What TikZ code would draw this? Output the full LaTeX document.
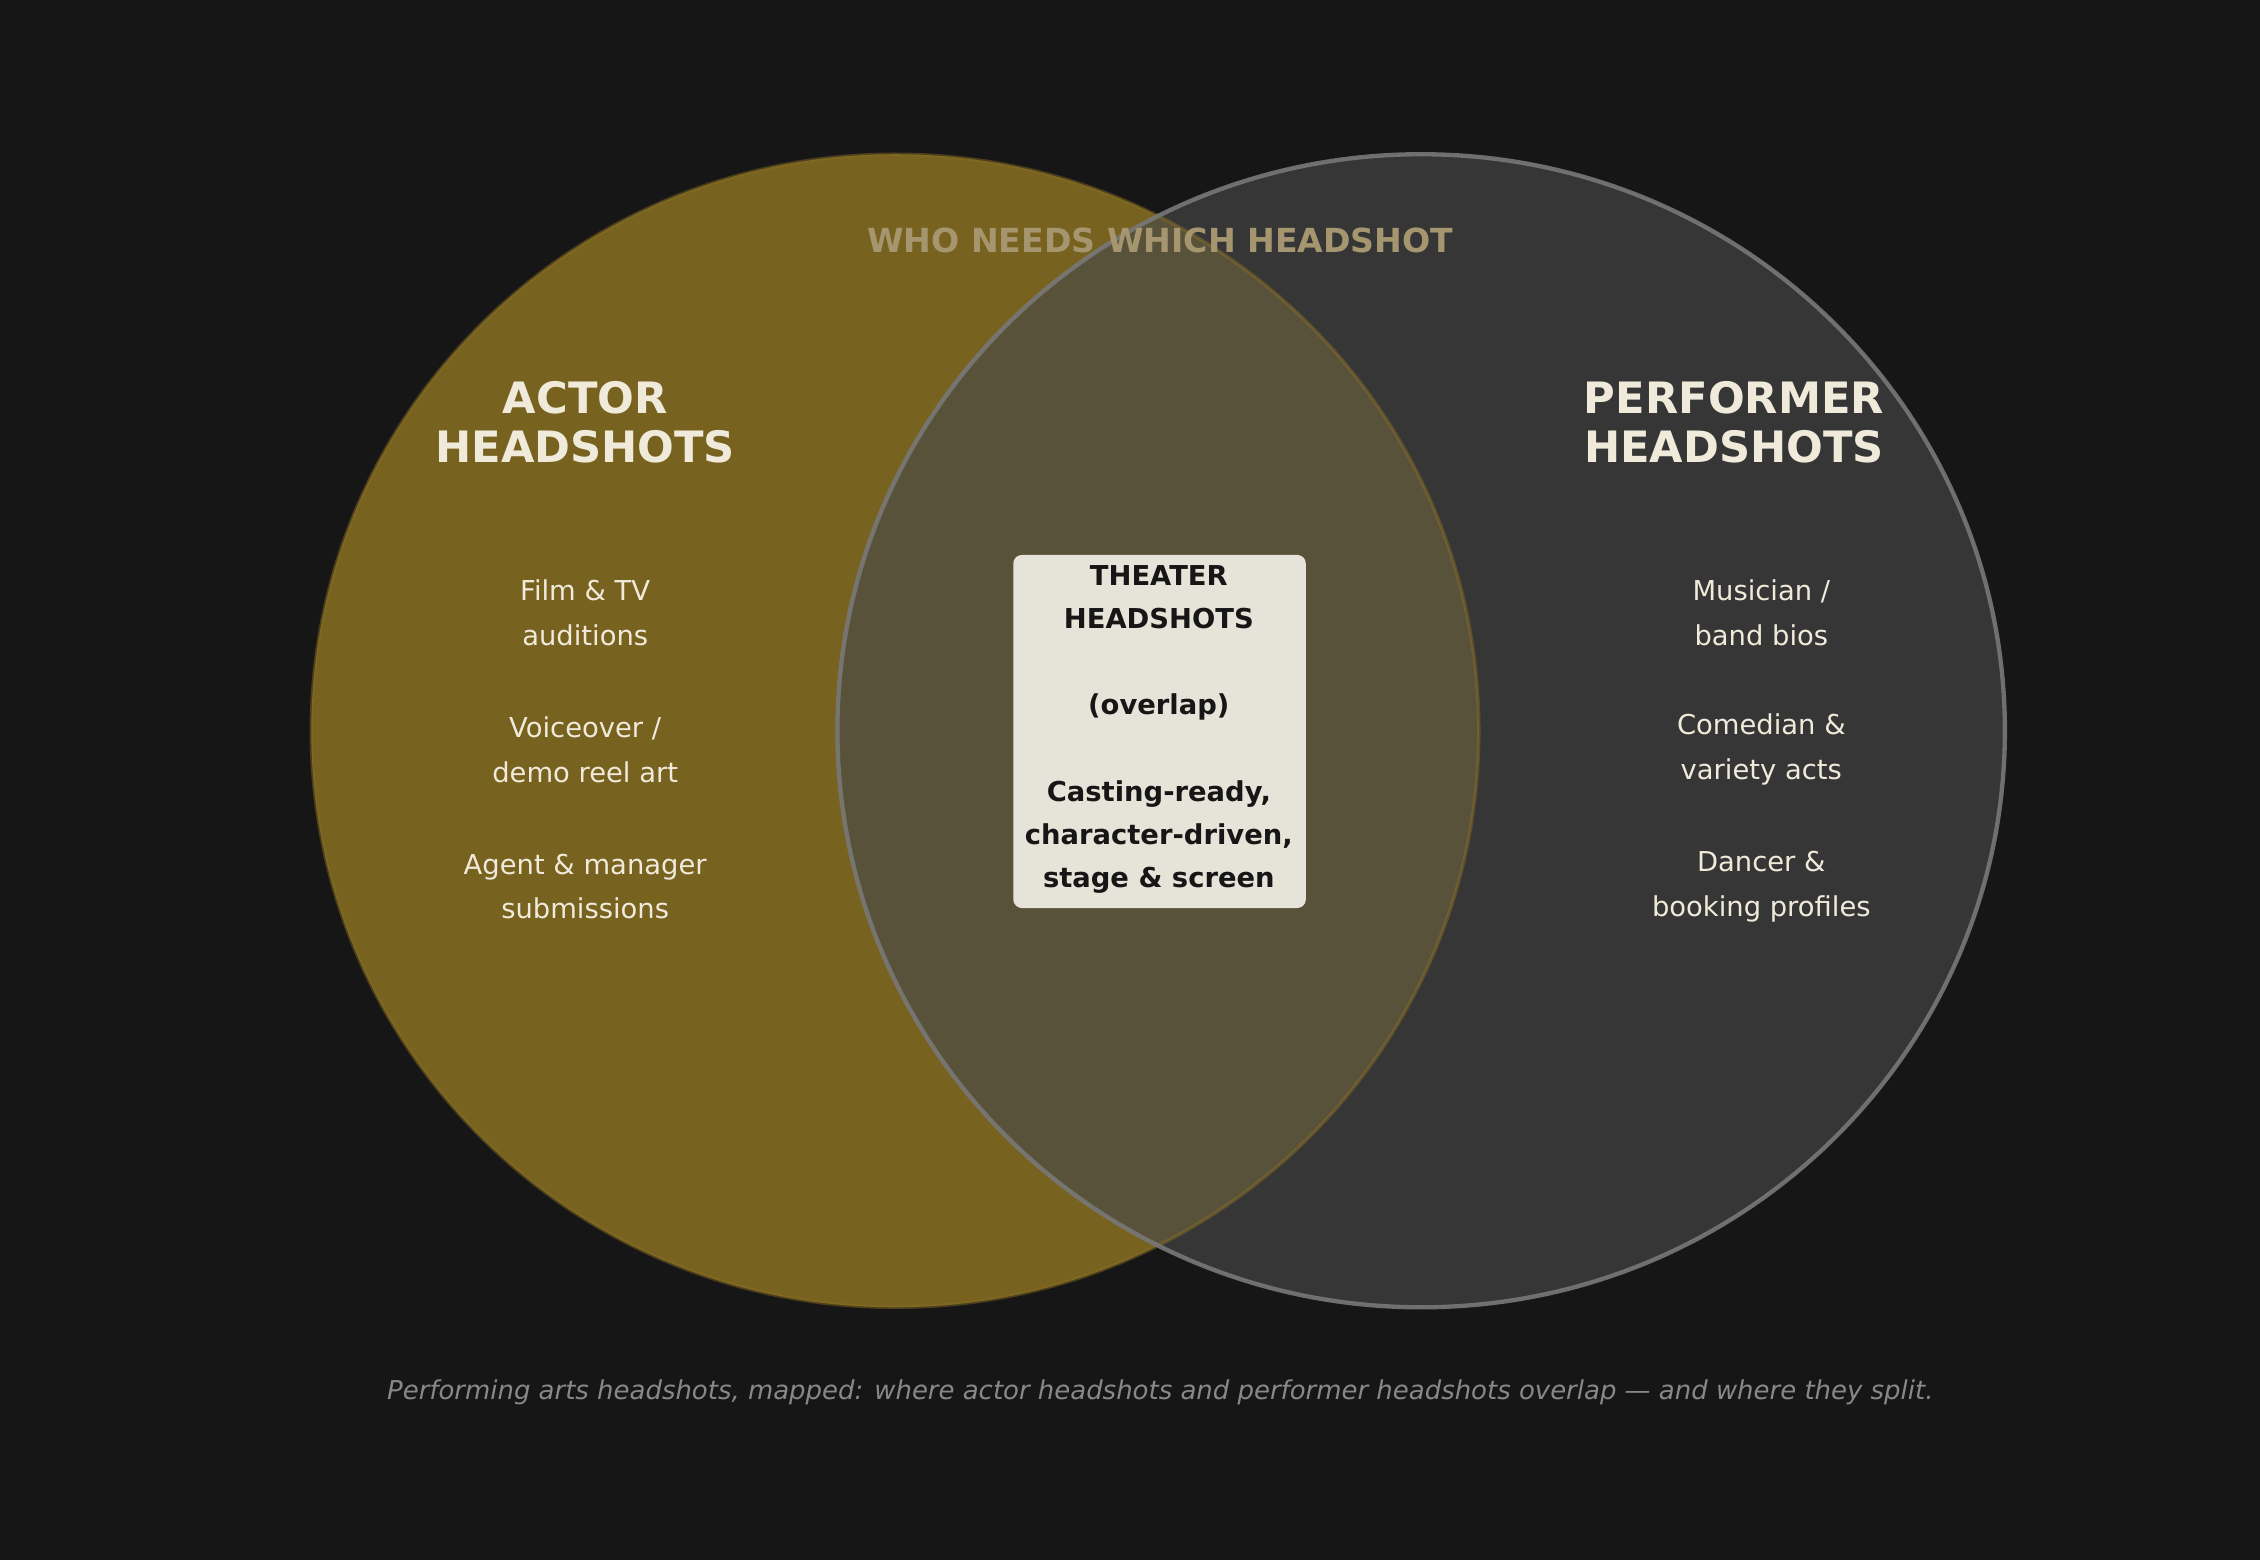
\documentclass[tikz,border=0pt]{standalone}
\usepackage{fontspec}
\setmainfont{DejaVu Sans}
\usetikzlibrary{positioning}
\definecolor{bgdark}{RGB}{22,22,22}
\definecolor{actorgold}{RGB}{120,98,32}
\definecolor{actorline}{RGB}{140,112,36}
\definecolor{perfgray}{RGB}{73,73,73}
\definecolor{perfline}{RGB}{120,120,120}
\definecolor{titletan}{RGB}{166,150,112}
\definecolor{creamtext}{RGB}{240,234,218}
\definecolor{boxcream}{RGB}{230,227,216}
\definecolor{captiongray}{RGB}{136,136,136}
\tikzset{
  heading/.style={font=\fontsize{15}{17}\selectfont\bfseries, text=creamtext, align=center},
  item/.style={font=\fontsize{9.5}{15.5}\selectfont, text=creamtext, align=center},
  overlapbox/.style={fill=boxcream, rounded corners=3pt, minimum width=101.5pt, minimum height=122.5pt},
}
\begin{document}
\begin{tikzpicture}[x=0.5pt, y=-0.5pt]
    % background
    \fill[bgdark] (0,0) rectangle (1568,1082);
    \useasboundingbox (0,0) rectangle (1568,1082);

    % circles
    \fill[actorgold] (621,507) ellipse (405 and 400);
    \fill[perfgray, opacity=0.64] (986,507) ellipse (405 and 400);
    \draw[actorline, line width=1.2pt, opacity=0.45] (621,507) ellipse (405 and 400);
    \draw[perfline, line width=1.5pt, opacity=0.9] (986,507) ellipse (405 and 400);

    % title
    \node[font=\fontsize{11.5}{13}\selectfont\bfseries, text=titletan] (title) at (805,167) {WHO NEEDS WHICH HEADSHOT};

    % headings
    \node[heading] (actor) at (406,293) {ACTOR\\HEADSHOTS};
    \node[heading] (performer) at (1203,293) {PERFORMER\\HEADSHOTS};

    % actor items
    \node[item] (film) at (406,425) {Film \& TV\\auditions};
    \node[item] (voice) at (406,520) {Voiceover /\\demo reel art};
    \node[item] (agent) at (406,615) {Agent \& manager\\submissions};

    % performer items
    \node[item] (musician) at (1222,425) {Musician /\\band bios};
    \node[item] (comedian) at (1222,520) {Comedian \&\\variety acts};
    \node[item] (dancer) at (1222,615) {Dancer \&\\booking profiles};

    % overlap
    \node[overlapbox] (box) at (804.5,507.5) {};
    \node[font=\fontsize{9.5}{15}\selectfont\bfseries, text=bgdark, align=center] (theater) at (804,506)
        {THEATER\\HEADSHOTS\\[15pt](overlap)\\[15pt]Casting-ready,\\character-driven,\\stage \& screen};

    % caption
    \node[font=\fontsize{9}{11}\selectfont\itshape, text=captiongray] (caption) at (805,966)
        {Performing arts headshots, mapped: where actor headshots and performer headshots overlap — and where they split.};
\end{tikzpicture}
\end{document}
